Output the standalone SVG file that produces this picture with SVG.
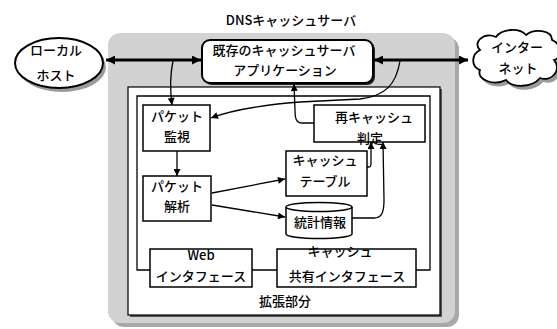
<svg xmlns="http://www.w3.org/2000/svg" width="557" height="329" viewBox="0 0 557 329">
<style>
text{font-family:"Noto Sans CJK JP","Liberation Sans",sans-serif;font-size:13px;font-weight:500;fill:#000;text-anchor:middle}
.box{fill:#fff;stroke:#000;stroke-width:1.5}
.ln{fill:none;stroke:#000;stroke-width:1.3}
.thick{fill:none;stroke:#000;stroke-width:3.2}
</style>
<defs>
<marker id="ah" viewBox="0 0 10 10" refX="10" refY="5" markerWidth="9" markerHeight="7" markerUnits="userSpaceOnUse" orient="auto-start-reverse"><path d="M0,0 L10,5 L0,10 z"/></marker>
<marker id="ahb" viewBox="0 0 10 10" refX="10" refY="5" markerWidth="12" markerHeight="9" markerUnits="userSpaceOnUse" orient="auto-start-reverse"><path d="M0,0 L10,5 L0,10 z"/></marker>
</defs>

<g id="server">
<rect x="112" y="37" width="347" height="290" rx="12" fill="#a8a8a8"/>
<rect x="108" y="33" width="347" height="290" rx="12" fill="#d2d2d2"/>
<text x="291" y="25">DNSキャッシュサーバ</text>
</g>

<g id="extension">
<rect x="130" y="89" width="312" height="228" fill="#555"/>
<rect x="128" y="87" width="312" height="228" fill="#fff" stroke="#000" stroke-width="1.2"/>
<text x="285" y="306">拡張部分</text>
</g>

<g id="localhost">
<ellipse cx="62" cy="67" rx="44" ry="25" fill="#9a9a9a"/>
<ellipse cx="59" cy="63" rx="44" ry="25" fill="#fff" stroke="#000" stroke-width="2"/>
<text x="56" y="55">ローカル</text>
<text x="56" y="80">ホスト</text>
</g>

<g id="internet">
<path transform="translate(3,4)" fill="#9a9a9a" d="M480,50 C472,42 484,32 496,37 C502,28 520,28 526,35 C534,28 552,30 552,40 C562,44 562,58 554,60 C562,70 552,82 540,78 C532,88 512,88 506,80 C494,86 476,80 480,70 C470,66 472,54 480,50 Z"/>
<path fill="#fff" stroke="#000" stroke-width="1.8" d="M480,50 C472,42 484,32 496,37 C502,28 520,28 526,35 C534,28 552,30 552,40 C562,44 562,58 554,60 C562,70 552,82 540,78 C532,88 512,88 506,80 C494,86 476,80 480,70 C470,66 472,54 480,50 Z"/>
<text x="517" y="52">インター</text>
<text x="518" y="73">ネット</text>
</g>

<g id="app">
<rect x="204" y="42" width="171" height="43" rx="8" fill="#222"/>
<rect x="202" y="40" width="171" height="43" rx="8" fill="#fff" stroke="#000" stroke-width="2"/>
<text x="284" y="55">既存のキャッシュサーバ</text>
<text x="285" y="75">アプリケーション</text>
</g>

<g id="frame">
<path class="ln" d="M150,270 H137 V96 H430 V270 H416 M252,270 H277"/>
</g>

<g id="monitor">
<rect class="box" x="143" y="105" width="67" height="46"/>
<text x="177" y="121">パケット</text>
<text x="177" y="141">監視</text>
</g>

<g id="analysis">
<rect class="box" x="143" y="176" width="68" height="45"/>
<text x="177" y="191">パケット</text>
<text x="177" y="211">解析</text>
</g>

<g id="recache">
<rect class="box" x="314" y="105" width="111" height="37"/>
<text x="374" y="122">再キャッシュ</text>
<text x="370" y="143">判定</text>
</g>

<g id="table">
<rect class="box" x="286" y="151" width="81" height="45"/>
<text x="325" y="165">キャッシュ</text>
<text x="325" y="186">テーブル</text>
</g>

<g id="stats">
<path class="box" d="M286,207 V234 A33,4.5 0 0 0 352,234 V207"/>
<ellipse class="box" cx="319" cy="207" rx="33" ry="4.5"/>
<text x="320" y="227">統計情報</text>
</g>

<g id="web">
<rect class="box" x="150" y="249" width="102" height="38"/>
<text x="201" y="260">Web</text>
<text x="201" y="281">インタフェース</text>
</g>

<g id="share">
<rect class="box" x="277" y="249" width="139" height="38"/>
<text x="340" y="256">キャッシュ</text>
<text x="347" y="281">共有インタフェース</text>
</g>

<g id="connectors">
<line class="thick" x1="106" y1="60" x2="201" y2="60" marker-start="url(#ahb)" marker-end="url(#ahb)"/>
<line class="thick" x1="374" y1="60" x2="468" y2="60" marker-start="url(#ahb)" marker-end="url(#ahb)"/>
<path class="ln" d="M173,61 C170,75 170,90 172,105" marker-end="url(#ah)"/>
<line class="ln" x1="177" y1="151" x2="177" y2="176" marker-end="url(#ah)"/>
<line class="ln" x1="212" y1="193" x2="285" y2="179" marker-end="url(#ah)"/>
<line class="ln" x1="212" y1="205" x2="285" y2="217" marker-end="url(#ah)"/>
<path class="ln" d="M367,167 L369,167 Q371,167 371,163 L371,142" marker-end="url(#ah)"/>
<path class="ln" d="M352,218 L374,218 C382,218 384,212 384,200 L383,142" marker-end="url(#ah)"/>
<path class="ln" d="M314,123 L302,123 C296,123 295,118 295,110 L294,84" marker-end="url(#ah)"/>
<path class="ln" d="M400,61 C396,85 385,96 360,99 L300,102 C262,105 232,110 211,118" marker-end="url(#ah)"/>
</g>
</svg>
